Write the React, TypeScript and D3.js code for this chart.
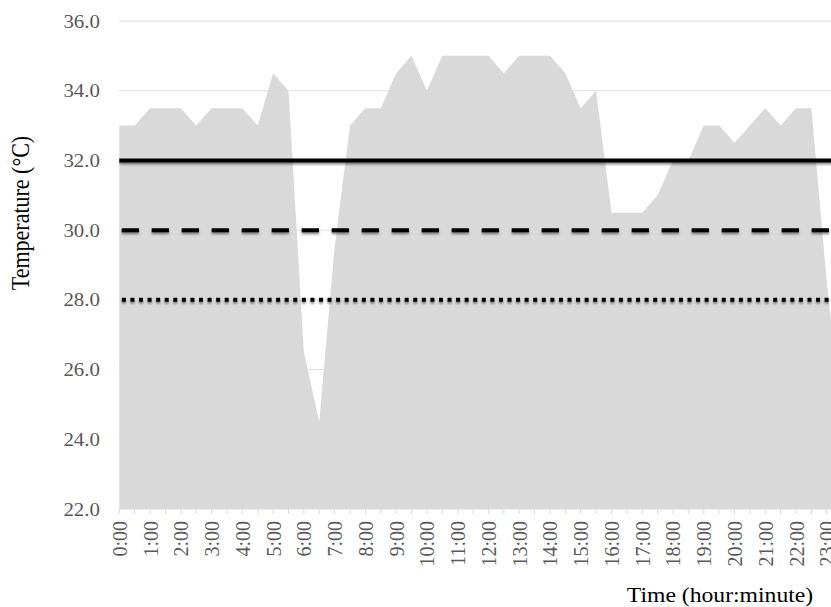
import React from "react";
import * as d3 from "d3";

const times: string[] = [
  "0:00","0:30","1:00","1:30","2:00","2:30","3:00","3:30","4:00","4:30",
  "5:00","5:30","6:00","6:30","7:00","7:30","8:00","8:30","9:00","9:30",
  "10:00","10:30","11:00","11:30","12:00","12:30","13:00","13:30","14:00","14:30",
  "15:00","15:30","16:00","16:30","17:00","17:30","18:00","18:30","19:00","19:30",
  "20:00","20:30","21:00","21:30","22:00","22:30","23:00","23:30",
];

const temperature: number[] = [
  33.0, 33.0, 33.5, 33.5, 33.5, 33.0, 33.5, 33.5, 33.5, 33.0,
  34.5, 34.0, 26.5, 24.5, 29.5, 33.0, 33.5, 33.5, 34.5, 35.0,
  34.0, 35.0, 35.0, 35.0, 35.0, 34.5, 35.0, 35.0, 35.0, 34.5,
  33.5, 34.0, 30.5, 30.5, 30.5, 31.0, 32.0, 32.0, 33.0, 33.0,
  32.5, 33.0, 33.5, 33.0, 33.5, 33.5, 28.5, 24.5,
];

const yTicks: number[] = [22, 24, 26, 28, 30, 32, 34, 36];
const thresholds: number[] = [32, 30, 28];

const W = 831;
const H = 607;
const FONT = "'Liberation Serif', 'Times New Roman', serif";

export default function App() {
  const x = d3
    .scalePoint<string>()
    .domain(times)
    .range([119.3, 119.3 + 15.38 * (times.length - 1)]);
  const y = d3.scaleLinear().domain([22, 36]).range([509, 21]);

  const area = d3
    .area<number>()
    .x((_, i) => x(times[i]) as number)
    .y0(y(22))
    .y1((d) => y(d));

  const x0 = x(times[0]) as number;
  const xEnd = x(times[times.length - 1]) as number;

  const lineStyles = [
    { dash: undefined, offset: 0 },
    { dash: "17.3 12.7", offset: 27.6 },
    { dash: "4 4.57", offset: 6 },
  ];

  return (
    <svg
      width={W}
      height={H}
      style={{ position: "absolute", left: 0, top: 0, display: "block", background: "#fff" }}
    >
      <defs>
        <filter id="shadow" filterUnits="userSpaceOnUse" x={0} y={0} width={W + 50} height={H}>
          <feDropShadow dx="0" dy="2" stdDeviation="1.2" floodColor="#000" floodOpacity="0.45" />
        </filter>
      </defs>

      {/* gridlines */}
      {yTicks.map((t) => (
        <line key={"g" + t} x1={x0} x2={W + 20} y1={y(t)} y2={y(t)} stroke="#e0e0e0" strokeWidth={1} />
      ))}

      {/* area */}
      <path d={area(temperature) as string} fill="#d9d9d9" />

      {/* tick marks */}
      {times.map((t) => (
        <line
          key={"t" + t}
          x1={x(t) as number}
          x2={x(t) as number}
          y1={y(22)}
          y2={y(22) + 5}
          stroke="#d9d9d9"
          strokeWidth={1}
        />
      ))}

      {/* threshold lines */}
      {thresholds.map((v, i) => (
        <g key={"th" + v} filter="url(#shadow)">
          <line
            x1={x0}
            x2={xEnd}
            y1={y(v)}
            y2={y(v)}
            stroke="#000"
            strokeWidth={4}
            strokeDasharray={lineStyles[i].dash}
            strokeDashoffset={lineStyles[i].offset}
          />
        </g>
      ))}

      {/* y tick labels */}
      {yTicks.map((t) => (
        <text
          key={"yl" + t}
          transform={`translate(100,${y(t) + 6.5}) scale(1.1,1)`}
          textAnchor="end"
          fontFamily={FONT}
          fontSize={19}
          fill="#595959"
        >
          {t.toFixed(1)}
        </text>
      ))}

      {/* x tick labels */}
      {times.map((t, i) =>
        i % 2 === 0 ? (
          <text
            key={"xl" + t}
            transform={`translate(${(x(t) as number) + 7.5},521) scale(1.1,1) rotate(-90)`}
            textAnchor="end"
            fontFamily={FONT}
            fontSize={20}
            fill="#595959"
          >
            {t}
          </text>
        ) : null
      )}

      {/* axis titles */}
      <text
        transform="translate(29,213) scale(1.1,1) rotate(-90)"
        textAnchor="middle"
        fontFamily={FONT}
        fontSize={22}
        fill="#000"
      >
        Temperature (°C)
      </text>
      <text
        transform="translate(720,602) scale(1.1,1)"
        textAnchor="middle"
        fontFamily={FONT}
        fontSize={21.5}
        fill="#000"
      >
        Time (hour:minute)
      </text>
    </svg>
  );
}
